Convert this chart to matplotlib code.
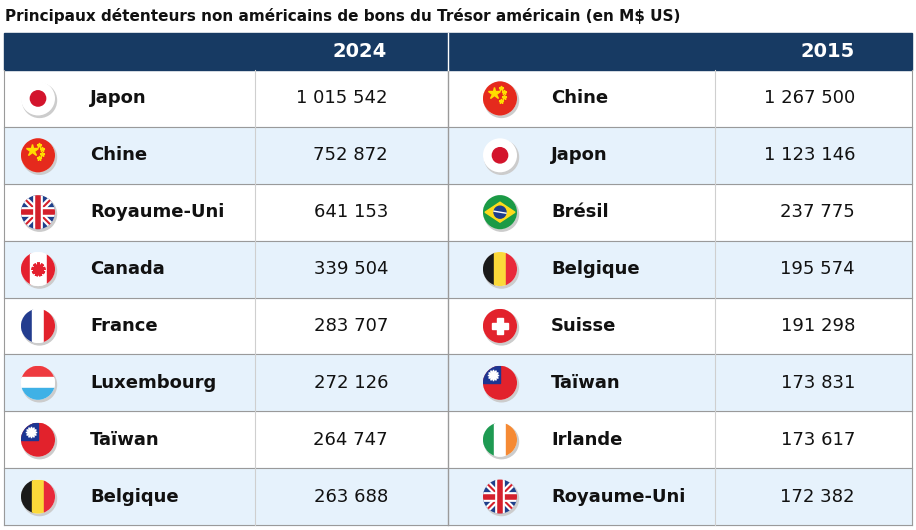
import matplotlib
matplotlib.use('Agg')
import matplotlib.pyplot as plt
from matplotlib.patches import Circle, Rectangle, Polygon

title = 'Principaux détenteurs non américains de bons du Trésor américain (en M$ US)'
years = ['2024', '2015']
names_2024 = ['Japon', 'Chine', 'Royaume-Uni', 'Canada', 'France', 'Luxembourg', 'Taïwan', 'Belgique']
values_2024 = ['1 015 542', '752 872', '641 153', '339 504', '283 707', '272 126', '264 747', '263 688']
names_2015 = ['Chine', 'Japon', 'Brésil', 'Belgique', 'Suisse', 'Taïwan', 'Irlande', 'Royaume-Uni']
values_2015 = ['1 267 500', '1 123 146', '237 775', '195 574', '191 298', '173 831', '173 617', '172 382']
flags_2024 = ['jp', 'cn', 'uk', 'ca', 'fr', 'lu', 'tw', 'be']
flags_2015 = ['cn', 'jp', 'br', 'be', 'ch', 'tw', 'ie', 'uk']

NAVY = '#173a63'
ALT = '#e6f2fc'
LINE = '#9a9a9a'

fig = plt.figure(figsize=(9.16, 5.3), dpi=100)
ax = fig.add_axes([0, 0, 1, 1])
ax.set_xlim(0, 916)
ax.set_ylim(530, 0)
ax.axis('off')


def vstripes(ax, cx, cy, r, cols, clip):
    w = 2 * r / len(cols)
    for i, c in enumerate(cols):
        p = Rectangle((cx - r + i * w, cy - r), w, 2 * r, color=c, zorder=5)
        ax.add_patch(p)
        p.set_clip_path(clip)


def hstripes(ax, cx, cy, r, cols, clip):
    h = 2 * r / len(cols)
    for i, c in enumerate(cols):
        p = Rectangle((cx - r, cy - r + i * h), 2 * r, h, color=c, zorder=5)
        ax.add_patch(p)
        p.set_clip_path(clip)


def flag(ax, code, cx, cy, r=17):
    ax.add_patch(Circle((cx + 1.5, cy + 2), r, color='#cccccc', zorder=3))
    clip = Circle((cx, cy), r, facecolor='white', edgecolor='none', zorder=4)
    ax.add_patch(clip)
    if code == 'jp':
        ax.add_patch(Circle((cx, cy), r * 0.45, color='#d3142c', zorder=6))
    elif code == 'cn':
        hstripes(ax, cx, cy, r, ['#e52a1d'], clip)
        ax.plot(cx - 6, cy - 5, marker='*', ms=9, color='#ffdd00', zorder=7)
        for dx, dy in [(1, -10), (4, -6), (4, -1), (1, 3)]:
            ax.plot(cx + dx, cy + dy, marker='*', ms=3.5, color='#ffdd00', zorder=7)
    elif code == 'uk':
        hstripes(ax, cx, cy, r, ['#1f3f8a'], clip)
        for (x1, y1, x2, y2) in [(-r, -r, r, r), (-r, r, r, -r)]:
            l1, = ax.plot([cx + x1, cx + x2], [cy + y1, cy + y2], color='white', lw=4.5, zorder=6)
            l2, = ax.plot([cx + x1, cx + x2], [cy + y1, cy + y2], color='#d4202c', lw=1.5, zorder=6)
            l1.set_clip_path(clip); l2.set_clip_path(clip)
        for (x1, y1, x2, y2) in [(-r, 0, r, 0), (0, -r, 0, r)]:
            l1, = ax.plot([cx + x1, cx + x2], [cy + y1, cy + y2], color='white', lw=7, zorder=7)
            l2, = ax.plot([cx + x1, cx + x2], [cy + y1, cy + y2], color='#d4202c', lw=4, zorder=7)
            l1.set_clip_path(clip); l2.set_clip_path(clip)
    elif code == 'ca':
        vstripes(ax, cx, cy, r, ['#e4202e', 'white', 'white', '#e4202e'], clip)
        ax.plot(cx, cy, marker=(9, 2, 0), ms=10, color='#e4202e', mew=2.2, zorder=7)
        ax.plot([cx, cx], [cy, cy + 6], color='#e4202e', lw=1.2, zorder=7)
    elif code == 'fr':
        vstripes(ax, cx, cy, r, ['#233c8e', 'white', '#e2222c'], clip)
    elif code == 'lu':
        hstripes(ax, cx, cy, r, ['#ee3a3f', 'white', '#3fb1e6'], clip)
    elif code == 'be':
        vstripes(ax, cx, cy, r, ['#1a1a1a', '#fbd93a', '#e8293a'], clip)
    elif code == 'ie':
        vstripes(ax, cx, cy, r, ['#1e9a52', 'white', '#f58a34'], clip)
    elif code == 'ch':
        hstripes(ax, cx, cy, r, ['#e2222c'], clip)
        ax.add_patch(Rectangle((cx - 8, cy - 2.8), 16, 5.6, color='white', zorder=7))
        ax.add_patch(Rectangle((cx - 2.8, cy - 8), 5.6, 16, color='white', zorder=7))
    elif code == 'tw':
        hstripes(ax, cx, cy, r, ['#e2222c'], clip)
        p = Rectangle((cx - r, cy - r), r, r, color='#1c3592', zorder=6)
        ax.add_patch(p); p.set_clip_path(clip)
        ax.plot(cx - r / 2 + 1, cy - r / 2 + 1, marker=(12, 1, 0), ms=8, color='white', zorder=7)
    elif code == 'br':
        hstripes(ax, cx, cy, r, ['#1b9a46'], clip)
        ax.add_patch(Polygon([(cx - 15, cy), (cx, cy - 10), (cx + 15, cy), (cx, cy + 10)],
                             color='#fddb1c', zorder=6))
        ax.add_patch(Circle((cx, cy), 6, color='#1f3d8c', zorder=7))
        ax.plot([cx - 6, cx + 6], [cy - 1, cy + 1], color='white', lw=1, zorder=8)


ax.text(5, 16, title, fontsize=11, fontweight='bold', va='center', ha='left', color='#111111')

top, bottom = 33, 525
head_h = 37
row_h = (bottom - top - head_h) / 8
ax.add_patch(Rectangle((4, top), 908, head_h, color=NAVY, zorder=1))
ax.text(387, top + head_h / 2, years[0], color='white', fontsize=14, fontweight='bold', ha='right', va='center')
ax.text(855, top + head_h / 2, years[1], color='white', fontsize=14, fontweight='bold', ha='right', va='center')

for i in range(8):
    y0 = top + head_h + i * row_h
    yc = y0 + row_h / 2
    if i % 2 == 1:
        ax.add_patch(Rectangle((4, y0), 908, row_h, color=ALT, zorder=1))
    ax.plot([4, 912], [y0 + row_h, y0 + row_h], color=LINE, lw=0.8, zorder=2)
    flag(ax, flags_2024[i], 38, yc)
    flag(ax, flags_2015[i], 500, yc)
    ax.text(90, yc, names_2024[i], fontsize=13, fontweight='bold', va='center', color='#111111')
    ax.text(388, yc, values_2024[i], fontsize=13, va='center', ha='right', color='#111111')
    ax.text(551, yc, names_2015[i], fontsize=13, fontweight='bold', va='center', color='#111111')
    ax.text(855, yc, values_2015[i], fontsize=13, va='center', ha='right', color='#111111')

y1 = top + head_h
ax.plot([255, 255], [y1, bottom], color='#cfcfcf', lw=0.8, zorder=2)
ax.plot([715, 715], [y1, bottom], color='#cfcfcf', lw=0.8, zorder=2)
ax.plot([448, 448], [y1, bottom], color=LINE, lw=1, zorder=2)
ax.plot([448, 448], [top, y1], color='white', lw=1, zorder=2)
ax.plot([4, 4], [y1, bottom], color=LINE, lw=0.8, zorder=2)
ax.plot([912, 912], [y1, bottom], color=LINE, lw=0.8, zorder=2)

fig.savefig('out.png', dpi=100)
